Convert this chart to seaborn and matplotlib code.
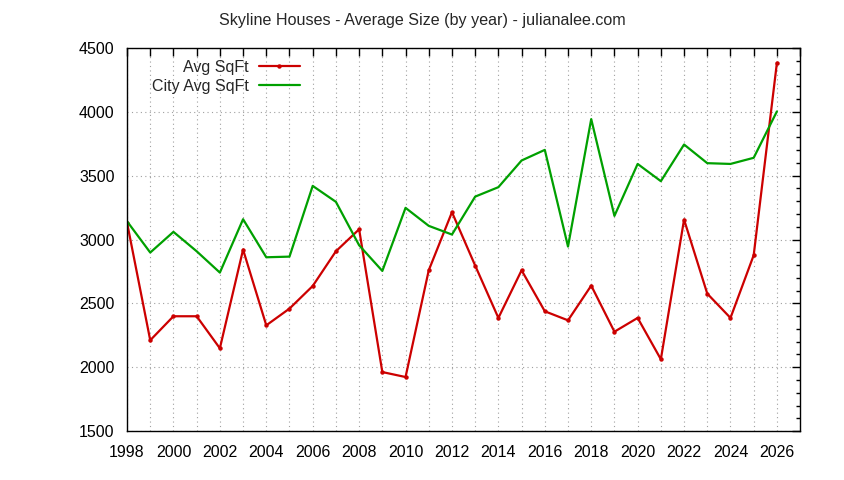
import numpy as np
import pandas as pd
import matplotlib
matplotlib.use("Agg")
import matplotlib.pyplot as plt
from matplotlib.ticker import MultipleLocator
import seaborn as sns

# --- data ---
years = list(range(1998, 2027))
avg_sqft = [3133, 2211, 2399, 2399, 2148, 2921, 2328, 2459, 2636, 2908,
            3080, 1962, 1923, 2759, 3214, 2796, 2386, 2759, 2438, 2367,
            2639, 2278, 2386, 2062, 3156, 2576, 2386, 2877, 4384]
city_avg_sqft = [3143, 2898, 3060, 2908, 2741, 3159, 2861, 2866, 3420, 3295,
                 2955, 2754, 3248, 3107, 3039, 3336, 3410, 3619, 3702, 2945,
                 3943, 3185, 3592, 3457, 3744, 3598, 3592, 3640, 4003]

series_names = ["Avg SqFt", "City Avg SqFt"]
title = "Skyline Houses - Average Size (by year) - julianalee.com"

df = pd.DataFrame({"year": years * 2,
                   "sqft": avg_sqft + city_avg_sqft,
                   "series": [series_names[0]] * len(years) + [series_names[1]] * len(years)})

sns.set_style("white")
plt.rcParams["font.family"] = ["Liberation Sans", "DejaVu Sans"]
plt.rcParams["font.size"] = 11

fig = plt.figure(figsize=(8.44, 4.8), dpi=100)
ax = fig.add_axes([0.1505, 0.102, 0.7975, 0.798])

palette = {series_names[0]: "#cc0000", series_names[1]: "#00a000"}
sns.lineplot(data=df[df.series == series_names[0]], x="year", y="sqft", hue="series",
             palette=palette, marker="o", markersize=3.2, markeredgewidth=0,
             linewidth=1.6, ax=ax)
sns.lineplot(data=df[df.series == series_names[1]], x="year", y="sqft", hue="series",
             palette=palette, linewidth=1.6, ax=ax)

ax.set_xlim(1998, 2027)
ax.set_ylim(1500, 4500)
ax.xaxis.set_major_locator(MultipleLocator(2))
ax.xaxis.set_minor_locator(MultipleLocator(1))
ax.yaxis.set_major_locator(MultipleLocator(500))
ax.yaxis.set_minor_locator(MultipleLocator(100))
ax.tick_params(which="both", direction="in", top=True, right=True, colors="black",
               labelsize=11.5, width=1)
ax.tick_params(which="major", length=6)
ax.tick_params(which="minor", length=3)
ax.tick_params(axis="x", which="minor", length=6)
ax.tick_params(axis="x", which="major", pad=10)
ax.tick_params(axis="y", which="major", pad=9)

ax.grid(which="major", color="#a0a0a0", linestyle=(0, (1, 3)), linewidth=0.8)
ax.grid(axis="x", which="minor", color="#a0a0a0", linestyle=(0, (1, 3)), linewidth=0.8)
for s in ax.spines.values():
    s.set_color("black")
    s.set_linewidth(1)

ax.set_xlabel("")
ax.set_ylabel("")
fig.text(0.5, 0.958, title, ha="center", va="center", fontsize=11.6)

ax.legend(loc="upper left", bbox_to_anchor=(0.016, 1.007), frameon=False,
          markerfirst=False, handlelength=2.6, handletextpad=0.6,
          labelspacing=0.25, fontsize=11.5)

fig.savefig("out.png", dpi=100)
